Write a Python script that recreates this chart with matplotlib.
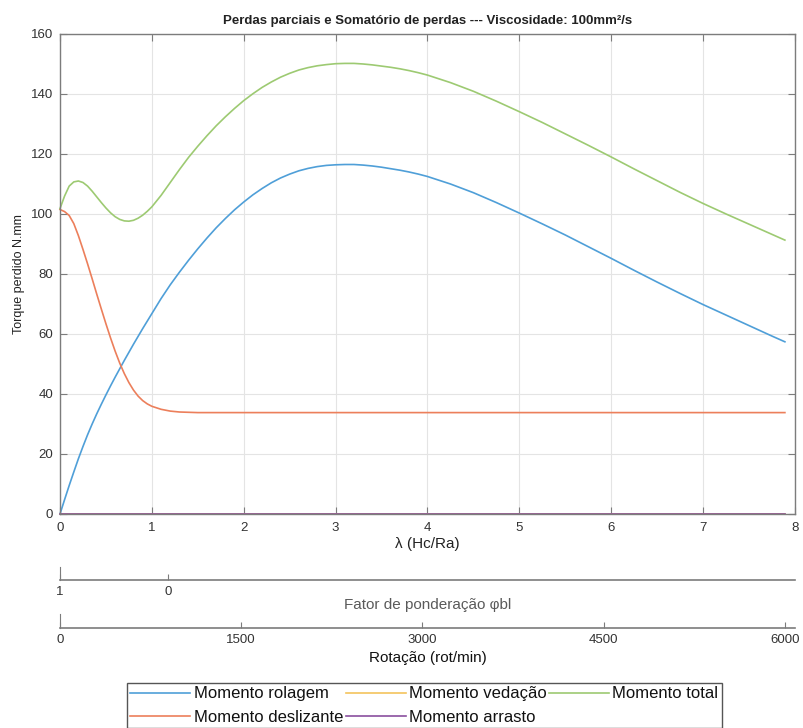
import matplotlib
matplotlib.use("Agg")
import matplotlib.pyplot as plt

plt.rcParams['font.family'] = ['Liberation Sans', 'DejaVu Sans']

# ---------------- data ----------------
lam = [0, 0.05, 0.1, 0.15, 0.2, 0.25, 0.3, 0.35, 0.4, 0.45, 0.5, 0.55, 0.6, 0.65,
       0.7, 0.75, 0.8, 0.85, 0.9, 0.95, 1.0,
       1.1, 1.2, 1.3, 1.4, 1.5, 1.6, 1.7, 1.8, 1.9, 2.0,
       2.1, 2.2, 2.3, 2.4, 2.5, 2.6, 2.7, 2.8, 2.9, 3.0,
       3.1, 3.2, 3.3, 3.4, 3.5, 3.6, 3.7, 3.8, 3.9, 4.0,
       4.25, 4.5, 4.75, 5.0, 5.25, 5.5, 5.75, 6.0, 6.25, 6.5, 6.75, 7.0, 7.25,
       7.5, 7.75, 7.89]

momento_rolagem = [0, 4.8, 9.5, 14.0, 18.4, 22.5, 26.4, 30.0, 33.4, 36.6, 39.7,
                   42.7, 45.6, 48.4, 51.2, 53.9, 56.6, 59.2, 61.8, 64.3, 66.8,
                   71.8, 76.4, 80.6, 84.6, 88.4, 92.0, 95.4, 98.5, 101.4, 104.0,
                   106.4, 108.5, 110.4, 112.0, 113.3, 114.4, 115.2, 115.8, 116.2, 116.4,
                   116.5, 116.5, 116.3, 116.0, 115.6, 115.1, 114.6, 114.0, 113.3, 112.5,
                   110.0, 107.1, 103.8, 100.3, 96.7, 93.0, 89.1, 85.2, 81.2, 77.3,
                   73.5, 69.8, 66.3, 62.8, 59.3, 57.4]

momento_deslizante = [101.5, 100.8, 99.5, 96.8, 92.8, 88.2, 83.4, 78.4, 73.3, 68.3,
                      63.4, 58.7, 54.3, 50.3, 46.8, 43.8, 41.3, 39.3, 37.8, 36.7, 35.9,
                      34.9, 34.3, 34.0, 33.9, 33.8, 33.8, 33.8, 33.8, 33.8, 33.8,
                      33.8, 33.8, 33.8, 33.8, 33.8, 33.8, 33.8, 33.8, 33.8, 33.8,
                      33.8, 33.8, 33.8, 33.8, 33.8, 33.8, 33.8, 33.8, 33.8, 33.8,
                      33.8, 33.8, 33.8, 33.8, 33.8, 33.8, 33.8, 33.8, 33.8, 33.8,
                      33.8, 33.8, 33.8, 33.8, 33.8, 33.8]

momento_total = [101.8, 106.0, 109.3, 110.7, 111.0, 110.5, 109.3, 107.6, 105.7, 103.8,
                 102.0, 100.4, 99.1, 98.2, 97.7, 97.6, 97.9, 98.6, 99.6, 100.9, 102.4,
                 106.2, 110.5, 114.8, 118.9, 122.6, 126.1, 129.4, 132.4, 135.2, 137.8,
                 140.1, 142.2, 144.0, 145.6, 146.9, 148.0, 148.8, 149.4, 149.8, 150.1,
                 150.2, 150.2, 150.0, 149.7, 149.3, 148.9, 148.4, 147.8, 147.1, 146.3,
                 143.8, 140.9, 137.6, 134.1, 130.5, 126.7, 122.9, 119.0, 115.0, 111.1,
                 107.2, 103.5, 100.0, 96.6, 93.2, 91.3]

lam_ends = [0, 7.89]
momento_vedacao = [0, 0]
momento_arrasto = [0, 0]

lam_ticks = [0, 1, 2, 3, 4, 5, 6, 7, 8]
torque_ticks = [0, 20, 40, 60, 80, 100, 120, 140, 160]
fator_ticks = [1, 0]
rot_ticks = [0, 1500, 3000, 4500, 6000]

# ---------------- styling ----------------
c_blue = '#4f9fd8'
c_orange = '#ec7f5b'
c_yellow = '#f4c45c'
c_green = '#9dca72'
c_purple = '#8a4f9e'
spine_c = '#7c7c7c'
txt_c = '#333333'

W, H = 804, 728
fig = plt.figure(figsize=(W / 100, H / 100), dpi=100)

def fx(px):
    return px / W

def fy(py):
    return 1 - py / H

ax_l, ax_r, ax_t, ax_b = 60, 795, 34, 514
ax = fig.add_axes([fx(ax_l), fy(ax_b), fx(ax_r - ax_l), (ax_b - ax_t) / H])

l1, = ax.plot(lam, momento_rolagem, color=c_blue, lw=1.2, label='Momento rolagem')
l2, = ax.plot(lam, momento_deslizante, color=c_orange, lw=1.2, label='Momento deslizante')
l3, = ax.plot(lam_ends, momento_vedacao, color=c_yellow, lw=1.2, label='Momento vedação')
l4, = ax.plot(lam_ends, momento_arrasto, color=c_purple, lw=1.2, label='Momento arrasto')
l5, = ax.plot(lam, momento_total, color=c_green, lw=1.2, label='Momento total')
for l in (l1, l2, l3, l4, l5):
    l.set_clip_on(False)

ax.set_xlim(0, 8)
ax.set_ylim(0, 160)
ax.set_xticks(lam_ticks)
ax.set_yticks(torque_ticks)
ax.grid(True, color='#e4e4e4', lw=0.8)
ax.set_axisbelow(True)
ax.tick_params(direction='in', top=True, right=True, length=5, width=0.8,
               color=spine_c, labelcolor=txt_c, labelsize=9.5)
ax.tick_params(axis='x', pad=6)
ax.tick_params(axis='y', pad=5)
for s in ax.spines.values():
    s.set_color(spine_c)
    s.set_linewidth(1.0)

ax.set_title('Perdas parciais e Somatório de perdas --- Viscosidade: 100mm²/s',
             fontsize=9.5, fontweight='bold', color='#222222', pad=7)
ax.set_ylabel('Torque perdido N.mm', fontsize=9, color='#222222', labelpad=4)
ax.set_xlabel('λ (Hc/Ra)', fontsize=11, color='#222222', labelpad=2)

# ---------------- secondary axes ----------------
def make_sub(line_y, h):
    a = fig.add_axes([fx(ax_l), fy(line_y), fx(ax_r - ax_l), h / H])
    a.patch.set_alpha(0)
    a.spines['top'].set_visible(False)
    a.spines['right'].set_visible(False)
    a.spines['left'].set_color(spine_c)
    a.spines['bottom'].set_color(spine_c)
    a.spines['bottom'].set_linewidth(1.2)
    a.set_yticks([])
    a.tick_params(axis='x', direction='in', length=4, width=0.8, color=spine_c,
                  labelcolor=txt_c, labelsize=9.5, pad=4)
    return a

ax2 = make_sub(580, 13)
ax2.set_xlim(1, 1 - (ax_r - ax_l) / 108.0)
ax2.set_xticks(fator_ticks)
ax2.set_xticklabels([str(t) for t in fator_ticks])
ax2.set_xlabel('Fator de ponderação φbl', fontsize=11, color='#5a5a5a', labelpad=0)

ax3 = make_sub(628, 14)
ax3.set_xlim(0, 6000 * (ax_r - ax_l) / 725.0)
ax3.set_xticks(rot_ticks)
ax3.set_xticklabels([str(t) for t in rot_ticks])
ax3.set_xlabel('Rotação (rot/min)', fontsize=11, color='#111111', labelpad=4)

# ---------------- legend ----------------
leg = fig.legend(handles=[l1, l2, l3, l4, l5], ncol=3, loc='upper left',
                 bbox_to_anchor=(fx(127), fy(683)), fontsize=12, frameon=True,
                 fancybox=False, edgecolor='#555555', framealpha=1,
                 handlelength=3.6, handletextpad=0.2, columnspacing=0.15,
                 borderpad=0.2, labelspacing=0.5, borderaxespad=0)
leg.get_frame().set_linewidth(1.0)
for t in leg.get_texts():
    t.set_color('#111111')

fig.savefig('out.png', dpi=100)
